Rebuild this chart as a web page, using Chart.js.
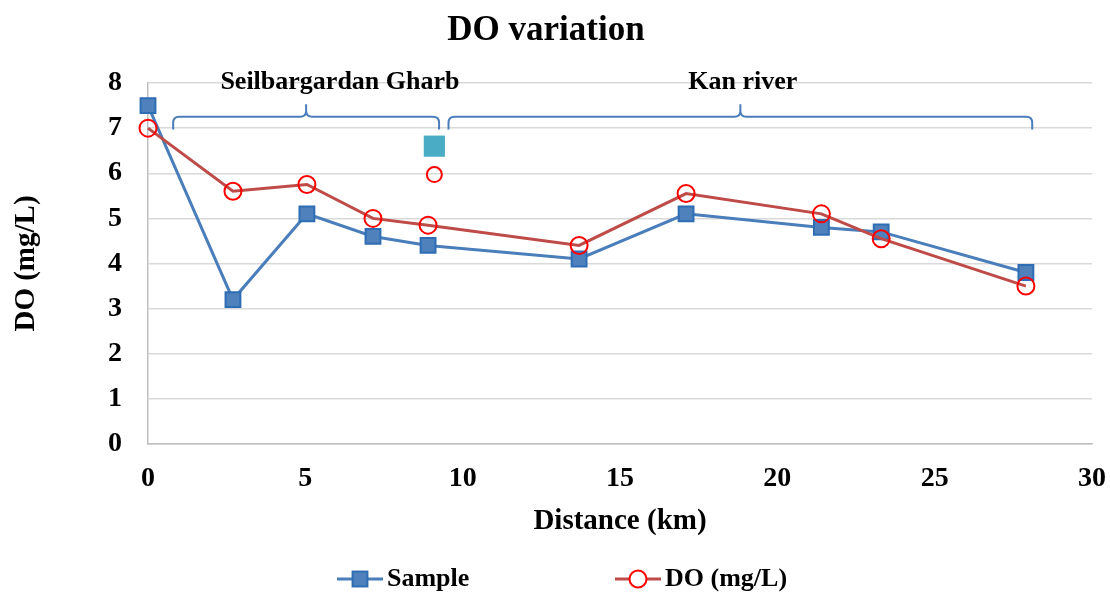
<!DOCTYPE html>
<html>
<head>
<meta charset="utf-8">
<title>DO variation</title>
<script src="https://cdn.jsdelivr.net/npm/chart.js@4/dist/chart.umd.min.js"></script>
<style>
  html, body { margin: 0; padding: 0; background: #ffffff; }
</style>
</head>
<body>
<canvas id="doChart" width="1110" height="594"></canvas>
<script>
// values
var distances = [0, 2.7, 5.05, 7.15, 8.9, 13.7, 17.1, 21.4, 23.3, 27.9];
var sampleValues = [7.5, 3.2, 5.1, 4.6, 4.4, 4.1, 5.1, 4.8, 4.7, 3.8];
var doValues = [7.0, 5.6, 5.75, 5.0, 4.85, 4.4, 5.55, 5.1, 4.55, 3.5];

var extraDistance = [9.1];
var extraSample = [6.6];
var extraDo = [5.97];

var xTicks = [0, 5, 10, 15, 20, 25, 30];
var yTicks = [0, 1, 2, 3, 4, 5, 6, 7, 8];

var reachNames = ["Seilbargardan Gharb", "Kan river"];
var reachStart = [0.8, 9.55];
var reachEnd = [9.25, 28.1];
var reachLabelX = [6.1, 18.9];

var legendLabels = ["Sample", "DO (mg/L)"];

var serif = "'Liberation Serif', 'Times New Roman', serif";

function toPoints(xs, ys) {

  var pts = [];
  for (var i = 0; i < xs.length; i++) {

    pts.push({ x: xs[i], y: ys[i] });
  }
  return pts;
}

function drawBrace(ctx, x1, x2, yh, yEnd, yTip, r) {

  var xm = (x1 + x2) / 2;
  ctx.beginPath();
  ctx.moveTo(x1, yEnd);
  ctx.lineTo(x1, yh + r);
  ctx.quadraticCurveTo(x1, yh, x1 + r, yh);
  ctx.lineTo(xm - r, yh);
  ctx.quadraticCurveTo(xm, yh, xm, yh - r);
  ctx.lineTo(xm, yTip);
  ctx.moveTo(xm, yh - r);
  ctx.quadraticCurveTo(xm, yh, xm + r, yh);
  ctx.lineTo(x2 - r, yh);
  ctx.quadraticCurveTo(x2, yh, x2, yh + r);
  ctx.lineTo(x2, yEnd);
  ctx.stroke();
}

var reachPlugin = {
  id: 'reaches',
  afterDatasetsDraw: function(chart) {

    var ctx = chart.ctx;
    var xs = chart.scales.x;
    var ys = chart.scales.y;
    ctx.save();
    ctx.strokeStyle = '#4A7EBB';
    ctx.lineWidth = 2;
    for (var i = 0; i < reachNames.length; i++) {

      drawBrace(ctx,
        xs.getPixelForValue(reachStart[i]),
        xs.getPixelForValue(reachEnd[i]),
        ys.getPixelForValue(7.25),
        ys.getPixelForValue(6.97),
        ys.getPixelForValue(7.53),
        6);

      ctx.fillStyle = '#000000';
      ctx.font = 'bold 26px ' + serif;
      ctx.textAlign = 'center';
      ctx.textBaseline = 'middle';
      ctx.fillText(reachNames[i], xs.getPixelForValue(reachLabelX[i]), ys.getPixelForValue(8.02));
    }
    ctx.restore();
  }
};

var legendPlugin = {
  id: 'lineLegend',
  afterDraw: function(chart) {

    var ctx = chart.ctx;
    var starts = [337, 615];
    var y = 579;
    ctx.save();
    for (var i = 0; i < legendLabels.length; i++) {

      var ds = chart.data.datasets[i];
      var x0 = starts[i];
      ctx.strokeStyle = ds.borderColor;
      ctx.lineWidth = ds.borderWidth;
      ctx.beginPath();
      ctx.moveTo(x0, y);
      ctx.lineTo(x0 + 46, y);
      ctx.stroke();

      var cx = x0 + 23;
      ctx.lineWidth = ds.pointBorderWidth;
      ctx.strokeStyle = ds.pointBorderColor;
      if (ds.pointStyle === 'rect') {

        var s = ds.pointRadius * Math.SQRT1_2;
        ctx.fillStyle = ds.pointBackgroundColor;
        ctx.fillRect(cx - s, y - s, 2 * s, 2 * s);
        ctx.strokeRect(cx - s, y - s, 2 * s, 2 * s);
      } else {

        ctx.beginPath();
        ctx.arc(cx, y, ds.pointRadius, 0, Math.PI * 2);
        ctx.fillStyle = '#ffffff';
        ctx.fill();
        ctx.stroke();
      }

      ctx.fillStyle = '#000000';
      ctx.font = 'bold 26px ' + serif;
      ctx.textAlign = 'left';
      ctx.textBaseline = 'middle';
      ctx.fillText(legendLabels[i], x0 + 50, y);
    }
    ctx.restore();
  }
};

function drawChart() {

  var ctx = document.getElementById('doChart').getContext('2d');
  var chart = new Chart(ctx, {

    type: 'scatter',

    data: {
      datasets: [{
        label: legendLabels[0],
        data: toPoints(distances, sampleValues),
        showLine: true,
        clip: false,
        borderColor: '#4A7EBB',
        borderWidth: 3,
        pointStyle: 'rect',
        pointRadius: 10.5,
        pointBackgroundColor: '#4F81BD',
        pointBorderColor: '#2E6DB4',
        pointBorderWidth: 2,
        order: 2
      }, {
        label: legendLabels[1],
        data: toPoints(distances, doValues),
        showLine: true,
        clip: false,
        borderColor: '#BE4B48',
        borderWidth: 3,
        pointStyle: 'circle',
        pointRadius: 8.5,
        pointBackgroundColor: 'rgba(255,255,255,0)',
        pointBorderColor: '#FF0000',
        pointBorderWidth: 2,
        order: 1
      }, {
        label: 'extra sample',
        data: toPoints(extraDistance, extraSample),
        showLine: false,
        clip: false,
        pointStyle: 'rect',
        pointRadius: 15,
        pointBackgroundColor: '#4BACC6',
        pointBorderColor: '#4BACC6',
        pointBorderWidth: 0,
        order: 4
      }, {
        label: 'extra DO',
        data: toPoints(extraDistance, extraDo),
        showLine: false,
        clip: false,
        pointStyle: 'circle',
        pointRadius: 7.5,
        pointBackgroundColor: 'rgba(255,255,255,0)',
        pointBorderColor: '#FF0000',
        pointBorderWidth: 2,
        order: 3
      }]
    },

    options: {
      responsive: false,
      animation: false,
      layout: { padding: { left: 0, right: 18, top: 0, bottom: 50 } },
      plugins: {
        legend: { display: false },
        tooltip: { enabled: false },
        title: {
          display: true,
          text: 'DO variation',
          color: '#000000',
          font: { family: serif, size: 35, weight: 'bold' },
          padding: { top: 10, bottom: 31 }
        }
      },
      scales: {
        x: {
          type: 'linear',
          min: xTicks[0],
          max: xTicks[xTicks.length - 1],
          afterBuildTicks: function(axis) {
            axis.ticks = xTicks.map(function(v) { return { value: v }; });
          },
          afterFit: function(axis) {
            axis.height = 100;
            axis.paddingLeft = 0;
            axis.paddingRight = 0;
          },
          grid: { display: false, drawTicks: false },
          border: { display: true, color: '#BFBFBF', width: 1.5 },
          ticks: {
            color: '#000000',
            padding: 18,
            maxRotation: 0,
            font: { family: serif, size: 28, weight: 'bold' }
          },
          title: {
            display: true,
            text: 'Distance (km)',
            color: '#000000',
            font: { family: serif, size: 29, weight: 'bold' },
            padding: { top: 0, bottom: 5 }
          }
        },
        y: {
          type: 'linear',
          min: yTicks[0],
          max: yTicks[yTicks.length - 1],
          afterBuildTicks: function(axis) {
            axis.ticks = yTicks.map(function(v) { return { value: v }; });
          },
          afterFit: function(axis) {
            axis.width = 148;
            axis.paddingTop = 0;
            axis.paddingBottom = 0;
          },
          grid: { color: '#D9D9D9', lineWidth: 1.5, drawTicks: false },
          border: { display: true, color: '#BFBFBF', width: 1.5 },
          ticks: {
            color: '#000000',
            padding: 26,
            font: { family: serif, size: 28, weight: 'bold' }
          },
          title: {
            display: true,
            text: 'DO (mg/L)',
            color: '#000000',
            font: { family: serif, size: 29, weight: 'bold' },
            padding: { top: 9, bottom: 0 }
          }
        }
      }
    },

    plugins: [reachPlugin, legendPlugin]
  });
}

drawChart();
</script>
</body>
</html>
